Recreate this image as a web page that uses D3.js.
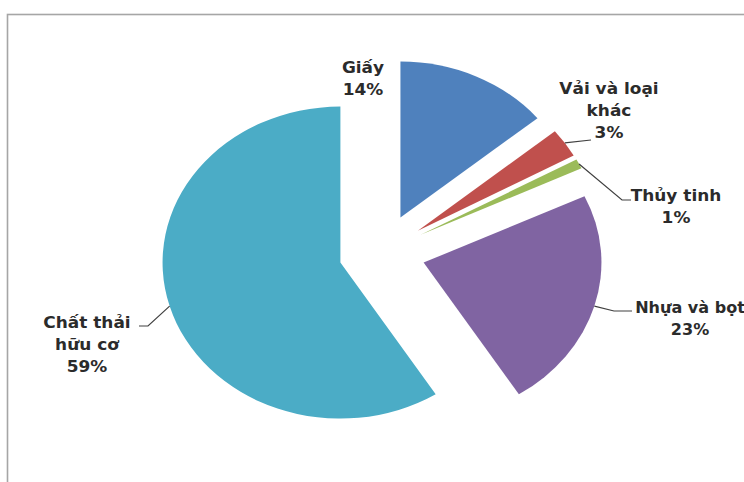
<!DOCTYPE html>
<html>
<head>
<meta charset="utf-8">
<script src="https://cdn.jsdelivr.net/npm/d3@7"></script>
<style>
  html, body { margin: 0; padding: 0; background: #fff; }
  svg { display: block; }
</style>
</head>
<body>
<svg id="chart" width="744" height="482"></svg>
<script>
// Waste composition (percent of total)
const categories = ["Giấy", "Vải và loại khác", "Thủy tinh", "Nhựa và bọt", "Chất thải hữu cơ"];
const labelLines = [["Giấy"], ["Vải và loại", "khác"], ["Thủy tinh"], ["Nhựa và bọt"], ["Chất thải", "hữu cơ"]];
const shares = [14, 3, 1, 23, 59];
const colors = ["#4F81BD", "#C0504D", "#9BBB59", "#8064A2", "#4BACC6"];

// Layout
const cx = 382, cy = 252;     // pie centre
const radius = 156;           // vertical radius
const stretchX = 1.14;        // horizontal stretch of the whole chart
const explode = 38;           // explosion distance of each slice

// Label anchors (first baseline, centred), horizontal text stretch and leader-line bends
const labelLayout = [
  { x: 363, y: 73, sx: 1.13, leader: null },
  { x: 609, y: 94, sx: 1.13, leader: [[591, 140]] },
  { x: 676, y: 201, sx: 1.13, leader: [[622, 200], [631, 200]] },
  { x: 690, y: 313, sx: 1.07, leader: [[614, 311], [632, 311]] },
  { x: 87, y: 328, sx: 1.13, leader: [[148, 326], [139, 326]] }
];

const svg = d3.select("#chart");

// Chart frame
svg.append("rect")
  .attr("x", 7.5).attr("y", 14.5)
  .attr("width", 780).attr("height", 520)
  .attr("fill", "#fff")
  .attr("stroke", "#a6a6a6")
  .attr("stroke-width", 1.6);

const pie = d3.pie().sort(null).value(d => d);
const arcs = pie(shares);
const arc = d3.arc().innerRadius(0).outerRadius(radius);

const g = svg.append("g")
  .attr("transform", `translate(${cx},${cy}) scale(${stretchX},1)`);

const mid = d => (d.startAngle + d.endAngle) / 2;

g.selectAll("path.slice")
  .data(arcs)
  .join("path")
  .attr("class", "slice")
  .attr("d", arc)
  .attr("fill", (d, i) => colors[i])
  .attr("transform", d => `translate(${explode * Math.sin(mid(d))},${-explode * Math.cos(mid(d))})`);

// Screen position of a slice's outer edge at its mid angle
const outerPoint = d => [
  cx + stretchX * (explode + radius) * Math.sin(mid(d)),
  cy - (explode + radius) * Math.cos(mid(d))
];

// Leader lines
const line = d3.line();
arcs.forEach((d, i) => {
  const lay = labelLayout[i];
  if (!lay.leader) return;
  svg.append("path")
    .attr("d", line([outerPoint(d), ...lay.leader]))
    .attr("fill", "none")
    .attr("stroke", "#404040")
    .attr("stroke-width", 1.2);
});

// Data labels
const pct = d3.format(".0%");
arcs.forEach((d, i) => {
  const lay = labelLayout[i];
  const lines = labelLines[i].concat([pct(shares[i] / 100)]);
  const t = svg.append("text")
    .attr("transform", `translate(${lay.x},${lay.y}) scale(${lay.sx},1)`)
    .attr("text-anchor", "middle")
    .attr("font-family", "'DejaVu Sans', sans-serif")
    .attr("font-weight", "bold")
    .attr("font-size", 15)
    .attr("fill", "#2b2b2b");
  lines.forEach((s, k) => {
    t.append("tspan").attr("x", 0).attr("y", k * 22).text(s);
  });
});
</script>
</body>
</html>
